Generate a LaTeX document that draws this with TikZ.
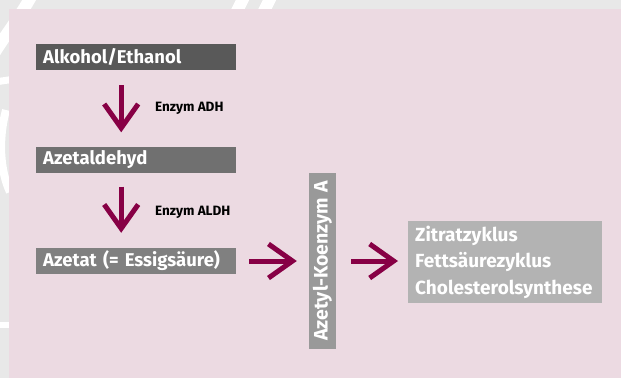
\documentclass[tikz,border=0pt]{standalone}
\usepackage{fontspec}
\setmainfont{Fira Sans}
\usetikzlibrary{arrows.meta}
\definecolor{margingray}{HTML}{E8E8E8}
\definecolor{panelpink}{HTML}{ECDAE2}
\definecolor{wine}{HTML}{870045}
\definecolor{boxa}{HTML}{595959}
\definecolor{boxb}{HTML}{707070}
\definecolor{boxc}{HTML}{808080}
\definecolor{boxd}{HTML}{999999}
\definecolor{boxe}{HTML}{B3B3B3}
\begin{document}
\begin{tikzpicture}[x=1pt,y=-1pt,
    stage/.style={anchor=west,text=white,font=\bfseries\fontsize{18.5}{20}\selectfont,
      minimum width=200pt,minimum height=26pt,text width=186pt,inner xsep=7pt,inner ysep=0pt,align=left},
    enzyme/.style={anchor=west,font=\bfseries\fontsize{13.5}{15}\selectfont,inner sep=0pt},
    flow/.style={wine,line width=5pt,-{Straight Barb[length=24pt,width=34pt,line cap=butt,line join=miter]}}]
    \useasboundingbox (0,0) rectangle (621,378);
    % backdrop
    \fill[margingray] (0,0) rectangle (621,378);
    \draw[white,line width=12pt] (32,-5) .. controls (18,20) and (5,35) .. (-10,60);
    \draw[white,line width=12pt] (245,-5) -- (230,25);
    \draw[white,line width=12pt] (272,-5) -- (257,25);
    \draw[white,line width=7pt] (-5,82) -- (15,79);
    \draw[white,line width=8pt] (6,110) .. controls (-2,140) and (0,170) .. (10,192);
    \draw[white,line width=6pt] (-5,325) -- (15,325);
    \fill[panelpink] (9,9) rectangle (621,378);
    % stages
    \node[stage,fill=boxa] (alk) at (36,57) {Alkohol/Ethanol};
    \node[stage,fill=boxb] (ald) at (36,159.5) {Azetaldehyd};
    \node[stage,fill=boxc] (acet) at (36,261) {Azetat (= Essigsäure)};
    \node[fill=boxd,text=white,font=\bfseries\fontsize{19.5}{20}\selectfont,rotate=90,
      minimum width=176pt,minimum height=27pt,inner sep=0pt] (acoa) at (322.5,261) {Azetyl-Koenzym A};
    \node[anchor=west,fill=boxe,text=white,font=\bfseries\fontsize{19}{26.5}\selectfont,
      minimum width=194pt,minimum height=82pt,text width=180pt,inner xsep=7pt,inner ysep=0pt,align=left]
      (cyc) at (408,262) {Zitratzyklus\\Fettsäurezyklus\\Cholesterolsynthese};
    % enzymes
    \node[enzyme] (adh) at (155,108) {Enzym ADH};
    \node[enzyme] (aldh) at (155,212) {Enzym ALDH};
    % arrows
    \draw[flow,shorten <=15pt,shorten >=14pt] ([xshift=-15pt]alk.south) -- ([xshift=-15pt]ald.north);
    \draw[flow,shorten <=14pt,shorten >=15pt] ([xshift=-15pt]ald.south) -- ([xshift=-15pt]acet.north);
    \draw[flow,shorten <=13pt,shorten >=12pt] (acet.east) -- (acoa.north);
    \draw[flow,shorten <=15pt,shorten >=10pt] (acoa.south) -- (acoa.south -| cyc.west);
\end{tikzpicture}
\end{document}
